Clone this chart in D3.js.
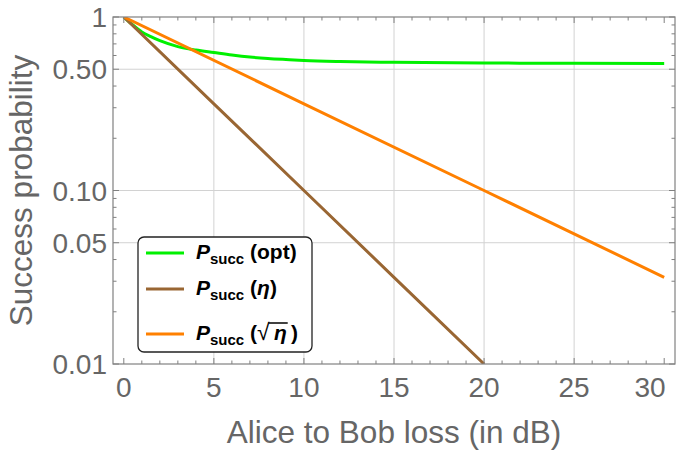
<!DOCTYPE html>
<html>
<head>
<meta charset="utf-8">
<script src="https://cdn.jsdelivr.net/npm/d3@7"></script>
<style>
  body { margin: 0; background: #fff; }
  svg { display: block; font-family: "Liberation Sans", Arial, sans-serif; }
</style>
</head>
<body>
<svg class="chart"></svg>
<script>
// loss in dB and success probabilities
const lossOpt = [0, 0.5, 1, 1.5, 2, 3, 4, 5, 6, 7, 8, 9, 10, 12, 15, 20, 25, 30];
const pOpt = [1, 0.9, 0.82, 0.77, 0.73, 0.675, 0.645, 0.624, 0.604, 0.588, 0.577, 0.569, 0.562, 0.554, 0.548, 0.543, 0.541, 0.54];
const lossEta = [0, 5, 10, 15, 20];
const pEta = [1, 0.316, 0.1, 0.0316, 0.01];
const lossSqrtEta = [0, 10, 20, 30];
const pSqrtEta = [1, 0.316, 0.1, 0.0316];

const xTicks = [0, 5, 10, 15, 20, 25, 30];
const yTicks = [0.01, 0.05, 0.1, 0.5, 1];
const yTickLabels = ['0.01', '0.05', '0.10', '0.50', '1'];
const xGrid = [5, 10, 15, 20, 25];
const yGrid = [0.05, 0.1, 0.5];

const [width, height] = [680, 454];
const plot = { left: 113, right: 675, top: 17, bottom: 364 };
const svg = d3.select('.chart').attr('width', width).attr('height', height);

const x = d3.scaleLinear().domain([-0.6, 30.6]).range([plot.left, plot.right]);
const y = d3.scaleLog().domain([0.01, 1]).range([plot.bottom, plot.top]);

const frameColor = '#808080';
const textColor = '#666';

// grid
svg.append('g').selectAll('line').data(xGrid).enter().append('line')
  .attr('x1', d => x(d)).attr('x2', d => x(d))
  .attr('y1', plot.top).attr('y2', plot.bottom)
  .attr('stroke', '#d2d2d2').attr('stroke-width', 1);
svg.append('g').selectAll('line').data(yGrid).enter().append('line')
  .attr('y1', d => y(d)).attr('y2', d => y(d))
  .attr('x1', plot.left).attr('x2', plot.right)
  .attr('stroke', '#d2d2d2').attr('stroke-width', 1);

// curves
svg.append('clipPath').attr('id', 'clip').append('rect')
  .attr('x', plot.left).attr('y', plot.top)
  .attr('width', plot.right - plot.left).attr('height', plot.bottom - plot.top);

const series = [
  { xs: lossOpt, ys: pOpt, color: '#00f000', curve: d3.curveMonotoneX },
  { xs: lossEta, ys: pEta, color: '#996633', curve: d3.curveLinear },
  { xs: lossSqrtEta, ys: pSqrtEta, color: '#ff8000', curve: d3.curveLinear },
];
const lines = svg.append('g').attr('clip-path', 'url(#clip)');
series.forEach(s => {
  const pts = s.xs.map((v, i) => [v, s.ys[i]]);
  lines.append('path')
    .attr('d', d3.line().x(d => x(d[0])).y(d => y(d[1])).curve(s.curve)(pts))
    .attr('fill', 'none').attr('stroke', s.color).attr('stroke-width', 3);
});

// frame and ticks
const frame = svg.append('g').attr('stroke', frameColor);
frame.append('rect')
  .attr('x', plot.left).attr('y', plot.top)
  .attr('width', plot.right - plot.left).attr('height', plot.bottom - plot.top)
  .attr('fill', 'none').attr('stroke-width', 1.2);

const xMinor = d3.range(0, 31);
frame.selectAll('.xt').data(xMinor).enter().append('line')
  .attr('x1', d => x(d)).attr('x2', d => x(d))
  .attr('y1', plot.bottom).attr('y2', d => plot.bottom - (d % 5 === 0 ? 6 : 3.5));
frame.selectAll('.xtt').data(xMinor).enter().append('line')
  .attr('x1', d => x(d)).attr('x2', d => x(d))
  .attr('y1', plot.top).attr('y2', d => plot.top + (d % 5 === 0 ? 6 : 3.5));

const yMinor = d3.range(2, 10).map(d => d / 100)
  .concat(d3.range(2, 10).map(d => d / 10));
const yAll = yMinor.filter(d => !yTicks.includes(d)).map(d => [d, 3.5])
  .concat(yTicks.map(d => [d, 6]));
frame.selectAll('.yt').data(yAll).enter().append('line')
  .attr('y1', d => y(d[0])).attr('y2', d => y(d[0]))
  .attr('x1', plot.left).attr('x2', d => plot.left + d[1]);
frame.selectAll('.ytr').data(yAll).enter().append('line')
  .attr('y1', d => y(d[0])).attr('y2', d => y(d[0]))
  .attr('x1', plot.right).attr('x2', d => plot.right - d[1]);

// tick labels (last one kept inside the image)
svg.append('g').selectAll('text').data(xTicks).enter().append('text')
  .attr('x', d => Math.min(x(d), 650)).attr('y', 397)
  .attr('text-anchor', 'middle').attr('font-size', 28).attr('fill', textColor)
  .text(d => d);
svg.append('g').selectAll('text').data(yTicks).enter().append('text')
  .attr('x', 107).attr('y', d => y(d) + 10)
  .attr('text-anchor', 'end').attr('font-size', 28).attr('fill', textColor)
  .text((d, i) => yTickLabels[i]);

// axis titles
svg.append('text')
  .attr('x', (plot.left + plot.right) / 2).attr('y', 443)
  .attr('text-anchor', 'middle').attr('font-size', 31.5).attr('fill', textColor)
  .text('Alice to Bob loss (in dB)');
svg.append('text')
  .attr('transform', `translate(32,${(plot.top + plot.bottom) / 2}) rotate(-90)`)
  .attr('text-anchor', 'middle').attr('font-size', 31.5).attr('fill', textColor)
  .text('Success probability');

// legend
const legend = svg.append('g');
legend.append('rect')
  .attr('x', 138).attr('y', 237).attr('width', 174).attr('height', 115)
  .attr('rx', 6).attr('fill', '#fff').attr('stroke', '#222').attr('stroke-width', 1.3);

const legendRows = [
  { color: '#00f000', y: 253, arg: 'opt' },
  { color: '#996633', y: 289, arg: 'eta' },
  { color: '#ff8000', y: 334, arg: 'sqrt' },
];
legendRows.forEach(r => {
  legend.append('line')
    .attr('x1', 146).attr('x2', 184).attr('y1', r.y).attr('y2', r.y)
    .attr('stroke', r.color).attr('stroke-width', 3);
  const t = legend.append('text')
    .attr('x', 196).attr('y', r.y + 6)
    .attr('font-size', 21).attr('font-weight', 'bold').attr('fill', '#000');
  t.append('tspan').attr('font-style', 'italic').text('P');
  t.append('tspan').attr('font-size', 15).attr('dy', 5).text('succ');
  t.append('tspan').attr('dy', -5).text(' (');
  if (r.arg === 'opt') {
    t.append('tspan').text('opt');
  } else if (r.arg === 'eta') {
    t.append('tspan').attr('font-style', 'italic').text('\u03b7');
  } else {
    t.append('tspan').attr('font-weight', 'normal').attr('font-size', 23).text('\u221a');
    const eta = t.append('tspan').attr('font-style', 'italic').text('\u2009\u03b7');
    t.append('tspan').text('\u2009');
    const b = eta.node().getBBox();
    legend.append('line')
      .attr('x1', b.x - 1).attr('x2', b.x + b.width + 1)
      .attr('y1', b.y + 2).attr('y2', b.y + 2)
      .attr('stroke', '#000').attr('stroke-width', 1.5);
  }
  t.append('tspan').text(')');
});
</script>
</body>
</html>
